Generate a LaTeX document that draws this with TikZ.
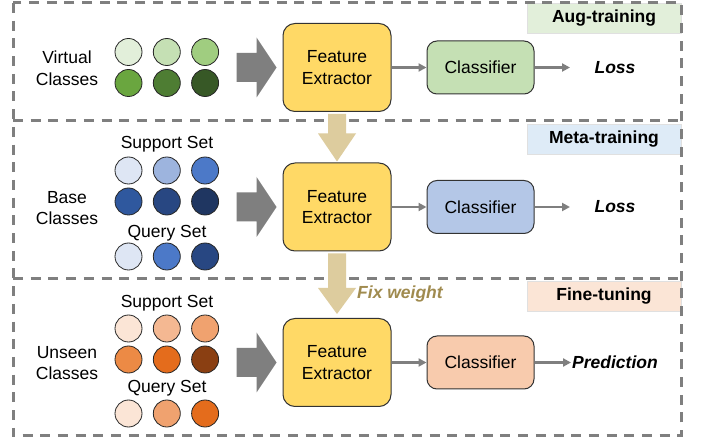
\documentclass[tikz,border=0pt]{standalone}
\usepackage{fontspec}
\setmainfont{Liberation Sans}
\usetikzlibrary{arrows.meta,calc}

% phase tags
\definecolor{augtag}{HTML}{E2EFDA}
\definecolor{metatag}{HTML}{DEEBF7}
\definecolor{finetag}{HTML}{FBE5D6}
% blocks
\definecolor{feyellow}{HTML}{FFD966}
\definecolor{clsgreen}{HTML}{C5E0B4}
\definecolor{clsblue}{HTML}{B4C7E7}
\definecolor{clsorange}{HTML}{F8CBAD}
\definecolor{framegray}{HTML}{7F7F7F}
\definecolor{tanarrow}{HTML}{DDCC9E}
\definecolor{fixtext}{HTML}{A08B4F}
% sample colours
\definecolor{gA}{HTML}{E2EFDA}\definecolor{gB}{HTML}{C5E0B4}\definecolor{gC}{HTML}{A0CD80}
\definecolor{gD}{HTML}{6AA63F}\definecolor{gE}{HTML}{4E7D33}\definecolor{gF}{HTML}{375826}
\definecolor{bA}{HTML}{DEE6F4}\definecolor{bB}{HTML}{9DB4DE}\definecolor{bC}{HTML}{4C79C8}
\definecolor{bD}{HTML}{2F589E}\definecolor{bE}{HTML}{284782}\definecolor{bF}{HTML}{1F3661}
\definecolor{oA}{HTML}{FBE5D6}\definecolor{oB}{HTML}{F4B892}\definecolor{oC}{HTML}{F0A26F}
\definecolor{oD}{HTML}{EC8A45}\definecolor{oE}{HTML}{E46C1C}\definecolor{oF}{HTML}{8A3F12}

\tikzset{
  base/.style={font=\fontsize{17.5}{21.6}\selectfont},
  dashbox/.style={draw=framegray, line width=3pt, dash pattern=on 10pt off 7.7pt},
  tag/.style={base, font=\fontsize{17.5}{21.6}\selectfont\bfseries, draw=black!12, line width=0.6pt,
              minimum width=154pt, minimum height=30pt, inner sep=0pt},
  febox/.style={base, draw=black!80, line width=1pt, fill=feyellow, rounded corners=12pt,
                minimum width=108pt, minimum height=88pt, align=center, inner sep=0pt},
  clsbox/.style={base, draw=black!80, line width=1pt, rounded corners=10pt,
                 minimum width=107pt, minimum height=53pt, inner sep=0pt},
  sample/.style={circle, draw=black!85, line width=0.8pt, minimum size=27pt, inner sep=0pt},
  label/.style={base, align=center, inner sep=0pt},
  outtext/.style={base, font=\fontsize{17.5}{21.6}\selectfont\bfseries\itshape, inner sep=0pt},
  link/.style={draw=framegray, line width=2.2pt, -{Triangle[length=8pt,width=8pt]}},
  bigarrow/.style={fill=framegray},
  downarrow/.style={fill=tanarrow}
}

\begin{document}
\begin{tikzpicture}[x=1pt,y=-1pt]
\useasboundingbox (0,0) rectangle (702,438);
\fill[white] (0,0) rectangle (702,438);

% phase tags
\node[tag, fill=augtag]  (tagaug)  at (604,18)    {Aug-training};
\node[tag, fill=metatag] (tagmeta) at (604,139.5) {Meta-training};
\node[tag, fill=finetag] (tagfine) at (604,296.5) {Fine-tuning};

% dashed phase frames: one outer frame and two dividers
\draw[dashbox] (13,3) rectangle (681.5,436);
\draw[dashbox] (13,121) -- (681.5,121);
\draw[dashbox] (13,279) -- (681.5,279);

% feature extractors and classifiers
\node[febox] (fe1) at (337,67.5)  {Feature\\Extractor};
\node[febox] (fe2) at (337,207)   {Feature\\Extractor};
\node[febox] (fe3) at (337,362.5) {Feature\\Extractor};

\node[clsbox, fill=clsgreen]  (cls1) at (480.5,67.5)  {Classifier};
\node[clsbox, fill=clsblue]   (cls2) at (480.5,207)   {Classifier};
\node[clsbox, fill=clsorange] (cls3) at (480.5,362.5) {Classifier};

\node[outtext] (loss1) at (615,67.5) {Loss};
\node[outtext] (loss2) at (615,207)  {Loss};
\node[outtext] (pred)  at (615,362.5) {Prediction};
\coordinate (end1) at (570,67.5);
\coordinate (end2) at (570,207);

\draw[link] (fe1) -- (cls1);
\draw[link] (fe2) -- (cls2);
\draw[link] (fe3) -- (cls3);
\draw[link] (cls1) -- (end1);
\draw[link] (cls2) -- (end2);
\draw[link] (cls3) -- ($(pred.west)+(-1,0)$);

% class groups
\node[label] (virt)   at (67,68)  {Virtual\\Classes};
\node[label] (basec)  at (67,208) {Base\\Classes};
\node[label] (unseen) at (67,363) {Unseen\\Classes};

\node[label] (sup2) at (167,144) {Support Set};
\node[label] (qry2) at (167,233) {Query Set};
\node[label] (sup3) at (167,303) {Support Set};
\node[label] (qry3) at (167,388) {Query Set};

% virtual samples
\foreach \c [count=\i] in {gA,gB,gC}
  \node[sample, fill=\c] (v1\i) at ({128.5+38.3*(\i-1)},52) {};
\foreach \c [count=\i] in {gD,gE,gF}
  \node[sample, fill=\c] (v2\i) at ({128.5+38.3*(\i-1)},83) {};
% base samples
\foreach \c [count=\i] in {bA,bB,bC}
  \node[sample, fill=\c] (b1\i) at ({128.5+38.3*(\i-1)},170.5) {};
\foreach \c [count=\i] in {bD,bE,bF}
  \node[sample, fill=\c] (b2\i) at ({128.5+38.3*(\i-1)},201.5) {};
\foreach \c [count=\i] in {bA,bC,bE}
  \node[sample, fill=\c] (b3\i) at ({128.5+38.3*(\i-1)},256.5) {};
% unseen samples
\foreach \c [count=\i] in {oA,oB,oC}
  \node[sample, fill=\c] (u1\i) at ({128.5+38.3*(\i-1)},328.5) {};
\foreach \c [count=\i] in {oD,oE,oF}
  \node[sample, fill=\c] (u2\i) at ({128.5+38.3*(\i-1)},359.5) {};
\foreach \c [count=\i] in {oA,oC,oE}
  \node[sample, fill=\c] (u3\i) at ({128.5+38.3*(\i-1)},413.5) {};

% block arrows into the feature extractors
\foreach \n in {fe1,fe2,fe3}{
  \fill[bigarrow] ($(\n.west)+(-46,-14.5)$) -- ($(\n.west)+(-26,-14.5)$)
    -- ($(\n.west)+(-26,-30)$) -- ($(\n.west)+(-6,0)$) -- ($(\n.west)+(-26,30)$)
    -- ($(\n.west)+(-26,14.5)$) -- ($(\n.west)+(-46,14.5)$) -- cycle;
}

% weight transfer arrows between phases
\fill[downarrow] ($(fe1.south)+(-9,2)$) -- ($(fe1.south)+(9,2)$) -- ($(fe2.north)+(9,-29)$)
  -- ($(fe2.north)+(19,-29)$) -- ($(fe2.north)+(0,-1)$) -- ($(fe2.north)+(-19,-29)$)
  -- ($(fe2.north)+(-9,-29)$) -- cycle;
\fill[downarrow] ($(fe2.south)+(-9,2)$) -- ($(fe2.south)+(9,2)$) -- ($(fe3.north)+(9,-30)$)
  -- ($(fe3.north)+(19,-30)$) -- ($(fe3.north)+(0,-4)$) -- ($(fe3.north)+(-19,-30)$)
  -- ($(fe3.north)+(-9,-30)$) -- cycle;
\node[outtext, text=fixtext, anchor=west] (fix) at (357,294) {Fix weight};
\end{tikzpicture}
\end{document}
